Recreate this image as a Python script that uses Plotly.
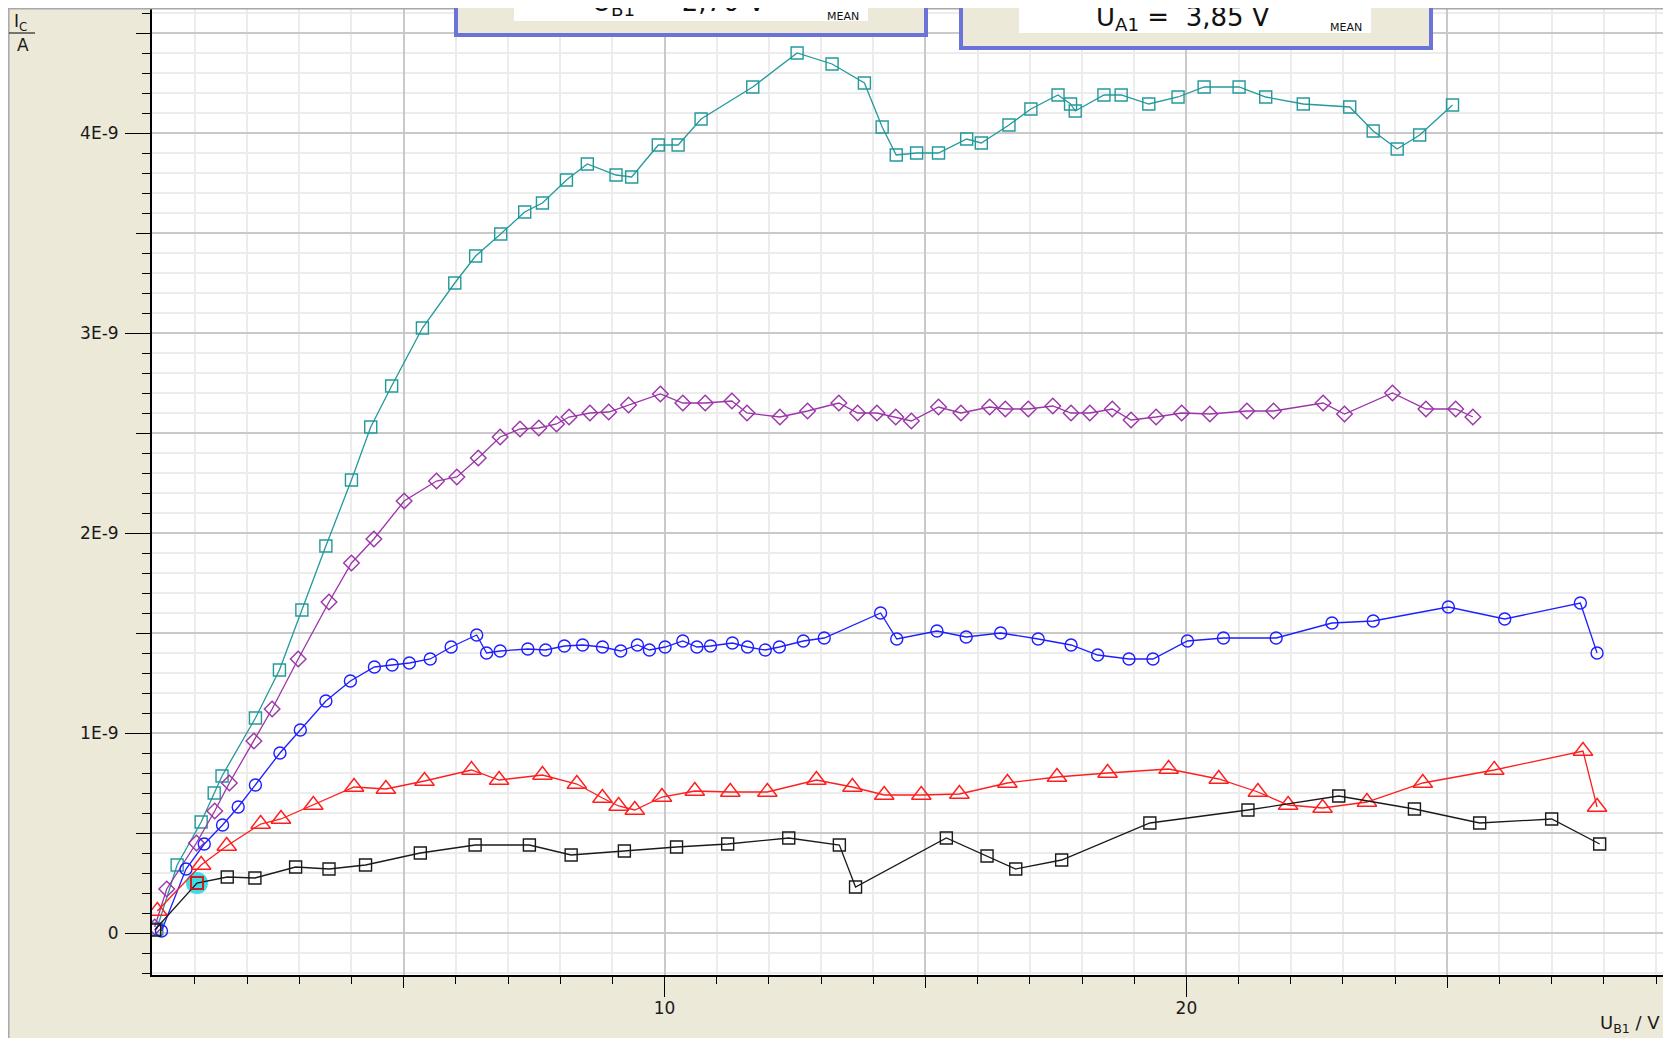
import plotly.graph_objects as go

# ---------------- data (I_C in units of 1E-9 A, U_B1 in V) ----------------
teal_x = [0.27, 0.66, 1.12, 1.37, 1.52, 2.16, 2.62, 3.05, 3.51, 4.00, 4.37, 4.77, 5.36, 5.98, 6.38,
          6.86, 7.32, 7.66, 8.12, 8.52, 9.07, 9.37, 9.88, 10.26, 10.70, 11.69, 12.54, 13.21, 13.83,
          14.17, 14.44, 14.83, 15.25, 15.79, 16.07, 16.60, 17.02, 17.54, 17.78, 17.87, 18.42, 18.75,
          19.28, 19.84, 20.34, 21.01, 21.52, 22.24, 23.13, 23.58, 24.04, 24.47, 25.10]
teal_y = [0.02, 0.34, 0.555, 0.70, 0.785, 1.075, 1.315, 1.615, 1.935, 2.265, 2.53, 2.735, 3.025, 3.25,
          3.385, 3.495, 3.605, 3.65, 3.765, 3.845, 3.79, 3.78, 3.94, 3.94, 4.07, 4.23, 4.40, 4.345,
          4.25, 4.03, 3.89, 3.90, 3.90, 3.97, 3.95, 4.04, 4.12, 4.19, 4.145, 4.11, 4.19, 4.19, 4.145,
          4.18, 4.23, 4.23, 4.18, 4.145, 4.13, 4.01, 3.92, 3.99, 4.14]

purple_x = [0.23, 0.46, 1.03, 1.38, 1.66, 2.13, 2.48, 2.98, 3.57, 4.00, 4.43, 5.01, 5.63, 6.02, 6.43,
            6.85, 7.23, 7.59, 7.93, 8.17, 8.57, 8.93, 9.31, 9.92, 10.35, 10.78, 11.29, 11.58, 12.21,
            12.74, 13.34, 13.70, 14.07, 14.43, 14.73, 15.25, 15.68, 16.23, 16.53, 16.97, 17.44, 17.79,
            18.15, 18.58, 18.94, 19.42, 19.91, 20.45, 21.16, 21.67, 22.62, 23.03, 23.95, 24.59, 25.16,
            25.49]
purple_y = [0.03, 0.22, 0.45, 0.61, 0.75, 0.96, 1.12, 1.37, 1.655, 1.85, 1.97, 2.16, 2.26, 2.28, 2.375,
            2.48, 2.52, 2.525, 2.545, 2.58, 2.60, 2.605, 2.64, 2.695, 2.65, 2.65, 2.66, 2.60, 2.58,
            2.61, 2.65, 2.60, 2.60, 2.58, 2.56, 2.63, 2.60, 2.63, 2.62, 2.62, 2.635, 2.60, 2.60, 2.62,
            2.565, 2.58, 2.60, 2.595, 2.61, 2.61, 2.65, 2.595, 2.70, 2.62, 2.62, 2.58]

blue_x = [0.36, 0.83, 1.18, 1.53, 1.83, 2.16, 2.63, 3.02, 3.51, 3.98, 4.44, 4.78, 5.11, 5.51, 5.91,
          6.40, 6.59, 6.85, 7.38, 7.72, 8.08, 8.43, 8.81, 9.16, 9.48, 9.71, 10.01, 10.35, 10.62, 10.88,
          11.30, 11.59, 11.93, 12.20, 12.66, 13.06, 14.14, 14.45, 15.22, 15.78, 16.44, 17.16, 17.79,
          18.30, 18.90, 19.36, 20.02, 20.71, 21.72, 22.79, 23.58, 25.02, 26.10, 27.55, 27.87]
blue_y = [0.01, 0.32, 0.445, 0.54, 0.63, 0.74, 0.90, 1.015, 1.16, 1.26, 1.33, 1.34, 1.35, 1.37, 1.43,
          1.49, 1.40, 1.41, 1.42, 1.415, 1.435, 1.44, 1.43, 1.41, 1.44, 1.415, 1.43, 1.46, 1.43, 1.435,
          1.45, 1.43, 1.415, 1.43, 1.46, 1.475, 1.60, 1.47, 1.51, 1.48, 1.50, 1.47, 1.44, 1.39, 1.37,
          1.37, 1.46, 1.475, 1.475, 1.55, 1.56, 1.63, 1.57, 1.65, 1.40]

red_x = [0.28, 1.12, 1.61, 2.26, 2.65, 3.27, 4.05, 4.66, 5.40, 6.30, 6.83, 7.66, 8.32, 8.81, 9.12,
         9.43, 9.95, 10.58, 11.26, 11.97, 12.91, 13.60, 14.21, 14.92, 15.65, 16.57, 17.52, 18.49,
         19.66, 20.62, 21.37, 21.95, 22.61, 23.46, 24.53, 25.90, 27.60, 27.87]
red_y = [0.11, 0.34, 0.435, 0.545, 0.57, 0.64, 0.73, 0.72, 0.76, 0.815, 0.765, 0.79, 0.745, 0.675,
         0.635, 0.615, 0.68, 0.71, 0.705, 0.705, 0.765, 0.73, 0.69, 0.69, 0.695, 0.75, 0.78, 0.80,
         0.82, 0.77, 0.705, 0.64, 0.625, 0.655, 0.75, 0.815, 0.91, 0.63]

black_x = [0.23, 1.04, 1.62, 2.15, 2.93, 3.57, 4.27, 5.32, 6.37, 7.41, 8.21, 9.23, 10.23, 11.21,
           12.38, 13.35, 13.66, 15.40, 16.18, 16.73, 17.61, 19.30, 21.18, 22.92, 24.37, 25.62,
           27.00, 27.92]
black_y = [0.015, 0.25, 0.28, 0.275, 0.33, 0.32, 0.34, 0.40, 0.44, 0.44, 0.39, 0.41, 0.43, 0.445,
           0.475, 0.44, 0.23, 0.475, 0.385, 0.32, 0.365, 0.55, 0.615, 0.685, 0.62, 0.55, 0.57, 0.445]
selected_index = 1

x_tick_vals = [10, 20]
x_tick_text = ["10", "20"]
x_mid_ticks = [5, 15, 25]
y_tick_vals = [0, 1, 2, 3, 4]
y_tick_text = ["0", "1E-9", "2E-9", "3E-9", "4E-9"]
y_mid_ticks = [0.5, 1.5, 2.5, 3.5, 4.5]

# ---------------- geometry (the page body adds an 8 px offset) ----------------
OFF = 8
W, H = 1663, 1030
ML, MR, MT, MB = 144, 4, 0, 63
PW, PH = W - ML - MR, H - MT - MB


def px(xo):
    """screen x (incl. body offset) -> paper x"""
    return (xo - OFF - ML) / PW


def py(yo):
    """screen y (incl. body offset) -> paper y"""
    return (H - MB - (yo - OFF)) / PH


XR = [0.178, 29.21]
YR = [-0.21, 4.625]

BEIGE = "#ECE9D8"
MAJ = "#C9C9C9"
MINR = "#ECECEC"
FONT = "DejaVu Sans"
NB = "\u00a0"

fig = go.Figure()

# selection halo (under data)
fig.add_trace(go.Scatter(x=[black_x[selected_index]], y=[black_y[selected_index]], mode="markers",
                         marker=dict(symbol="circle", size=22, color="#3FDCE6", line=dict(width=0)),
                         showlegend=False, hoverinfo="skip"))

series = [
    (teal_x, teal_y, "#23999A", "square-open", 12, 1.3),
    (purple_x, purple_y, "#9B35A8", "diamond-open", 12, 1.3),
    (blue_x, blue_y, "#1E1EFF", "circle-open", 12, 1.3),
    (red_x, red_y, "#FF1E1E", "triangle-up-open", 17, 1.3),
    (black_x, black_y, "#1A1A1A", "square-open", 12, 1.3),
]
for xs, ys, col, sym, size, lw in series:
    fig.add_trace(go.Scatter(x=xs, y=ys, mode="lines+markers",
                             line=dict(color=col, width=lw),
                             marker=dict(symbol=sym, size=size, color=col, line=dict(width=1.4, color=col)),
                             showlegend=False))

# selected point marker
fig.add_trace(go.Scatter(x=[black_x[selected_index]], y=[black_y[selected_index]], mode="markers",
                         marker=dict(symbol="square-open", size=12, color="#FF1010",
                                     line=dict(width=1.6, color="#FF1010")),
                         showlegend=False, hoverinfo="skip"))

# empty trace that activates the overlay axes carrying the mid-length ticks
fig.add_trace(go.Scatter(x=[], y=[], xaxis="x2", yaxis="y2", showlegend=False))

tickfont = dict(family=FONT, size=17, color="#1A1A1A")

fig.update_layout(
    width=W, height=H,
    margin=dict(l=ML, r=MR, t=MT, b=MB),
    paper_bgcolor=BEIGE, plot_bgcolor="white",
    showlegend=False,
    xaxis=dict(range=XR, tickmode="array", tickvals=x_tick_vals, ticktext=x_tick_text,
               ticks="outside", ticklen=20, tickwidth=1, tickcolor="black", ticklabelstandoff=-3,
               showline=True, linecolor="black", linewidth=2, zeroline=False,
               showgrid=True, gridcolor=MAJ, gridwidth=1.5, tickfont=tickfont,
               minor=dict(tick0=0, dtick=1, ticks="outside", ticklen=7, tickcolor="black",
                          showgrid=True, gridcolor=MINR, gridwidth=1.5)),
    xaxis2=dict(range=XR, overlaying="x", anchor="y", side="bottom", tickmode="array",
                tickvals=x_mid_ticks, ticks="outside", ticklen=12, tickcolor="black",
                showticklabels=False, showgrid=True, gridcolor=MAJ, gridwidth=1.5,
                zeroline=False, showline=False),
    yaxis=dict(range=YR, tickmode="array", tickvals=y_tick_vals, ticktext=y_tick_text,
               ticks="outside", ticklen=25, tickwidth=1, tickcolor="black", ticklabelstandoff=3,
               showline=True, linecolor="black", linewidth=2, zeroline=False,
               showgrid=True, gridcolor=MAJ, gridwidth=1.5, tickfont=tickfont,
               minor=dict(tick0=0, dtick=0.1, ticks="outside", ticklen=8, tickcolor="black",
                          showgrid=True, gridcolor=MINR, gridwidth=1.5)),
    yaxis2=dict(range=YR, overlaying="y", anchor="x", side="left", tickmode="array",
                tickvals=y_mid_ticks, ticks="outside", ticklen=15, tickcolor="black",
                showticklabels=False, showgrid=True, gridcolor=MAJ, gridwidth=1.5,
                zeroline=False, showline=False),
)

shapes = []
# white strip at the right edge
shapes.append(dict(type="rect", xref="paper", yref="paper", x0=px(1667), x1=px(1672), y0=py(1040), y1=py(0),
                   fillcolor="white", line=dict(width=0), layer="below"))
# frame lines of the panel
shapes.append(dict(type="line", xref="paper", yref="paper", x0=px(8.8), x1=px(8.8), y0=py(1040), y1=py(8),
                   line=dict(color="#A8A8A8", width=1.5)))
shapes.append(dict(type="line", xref="paper", yref="paper", x0=px(8), x1=px(1667), y0=py(8.8), y1=py(8.8),
                   line=dict(color="#A8A8A8", width=1.5)))
# fraction line of the y-axis label
shapes.append(dict(type="line", xref="paper", yref="paper", x0=px(9), x1=px(35), y0=py(33), y1=py(33),
                   line=dict(color="black", width=1)))
# measurement boxes (clipped at the top)
for (bx0, bx1, bb, ix0, ix1, ib) in [(456, 926, 35, 514, 868, 21), (961, 1431, 48, 1019, 1371, 33)]:
    shapes.append(dict(type="rect", xref="paper", yref="paper", x0=px(bx0), x1=px(bx1),
                       y0=py(bb), y1=py(-10), fillcolor=BEIGE,
                       line=dict(color="#6B73D8", width=4), layer="above"))
    shapes.append(dict(type="rect", xref="paper", yref="paper", x0=px(ix0), x1=px(ix1),
                       y0=py(ib), y1=py(-10), fillcolor="white",
                       line=dict(width=0), layer="above"))
fig.update_layout(shapes=shapes)

ann = []
ann.append(dict(text="I<sub>C</sub>", xref="paper", yref="paper", x=px(12), y=py(22),
                xanchor="left", yanchor="middle", showarrow=False,
                font=dict(family=FONT, size=17, color="#1A1A1A")))
ann.append(dict(text="A", xref="paper", yref="paper", x=px(23), y=py(45),
                xanchor="center", yanchor="middle", showarrow=False,
                font=dict(family=FONT, size=17, color="#1A1A1A")))
ann.append(dict(text="U<sub>B1</sub> / V", xref="paper", yref="paper", x=px(1662), y=py(1038),
                xanchor="right", yanchor="bottom", showarrow=False,
                font=dict(family=FONT, size=18, color="#1A1A1A")))
# box texts
ann.append(dict(text="U<sub>A1</sub> =" + NB * 2 + "3,85 V", xref="paper", yref="paper",
                x=px(1094), y=py(18), xanchor="left", yanchor="middle", showarrow=False,
                font=dict(family=FONT, size=26, color="#111111")))
ann.append(dict(text="MEAN", xref="paper", yref="paper", x=px(1346), y=py(27),
                xanchor="center", yanchor="middle", showarrow=False,
                font=dict(family=FONT, size=11, color="#111111")))
ann.append(dict(text="U<sub>B1</sub> =" + NB * 2 + "2,70 V", xref="paper", yref="paper",
                x=px(590), y=py(4), xanchor="left", yanchor="middle", showarrow=False,
                font=dict(family=FONT, size=26, color="#111111")))
ann.append(dict(text="MEAN", xref="paper", yref="paper", x=px(843), y=py(16),
                xanchor="center", yanchor="middle", showarrow=False,
                font=dict(family=FONT, size=11, color="#111111")))
fig.update_layout(annotations=ann)

fig.write_html("out.html")
